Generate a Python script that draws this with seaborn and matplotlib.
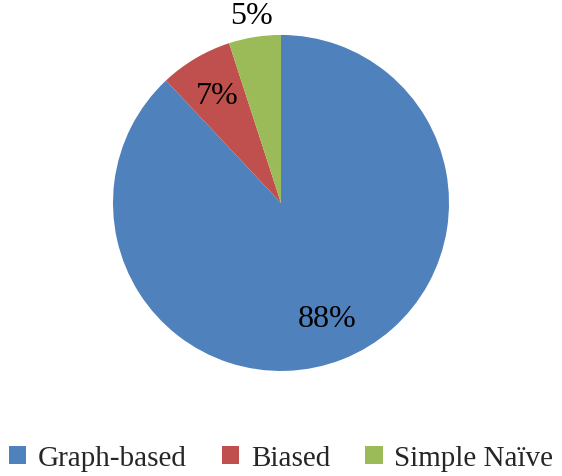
import matplotlib
matplotlib.use("Agg")
import matplotlib.pyplot as plt
import seaborn as sns
from matplotlib.patches import Patch

sns.set_theme(style="white")
plt.rcParams['font.family'] = ['Liberation Serif', 'DejaVu Serif']

categories = ["Graph-based", "Biased", "Simple Naïve"]
values = [88, 7, 5]
colors = ["#4F81BD", "#C0504D", "#9BBB59"]

fig = plt.figure(figsize=(5.62, 4.77), dpi=100)
ax = fig.add_axes([0.0, 57 / 477, 1.0, 420 / 477])

def fmt(p):
    return f"{p:.0f}%" if p >= 6 else ""

wedges, texts, autotexts = ax.pie(
    values, colors=colors, startangle=90, counterclock=False,
    autopct=fmt, pctdistance=0.74,
    labels=["", "", f"{values[2]}%"], labeldistance=1.13,
    radius=1.0, wedgeprops=dict(linewidth=0),
    textprops=dict(fontsize=23, color="black"),
)
for t in texts:
    t.set_ha("center")
    t.set_va("center")
ax.set_aspect("equal")
ax.set_xlim(-1.6726, 1.6726)
ax.set_ylim(-1.286, 1.214)

handles = [Patch(facecolor=c, edgecolor="none") for c in colors]
fig.legend(handles, categories, loc="center", bbox_to_anchor=(0.5, 0.037),
           ncol=3, frameon=False, fontsize=21, handlelength=0.6, handleheight=0.6,
           handletextpad=0.4, columnspacing=1.2)

fig.savefig("out.png", dpi=100)
